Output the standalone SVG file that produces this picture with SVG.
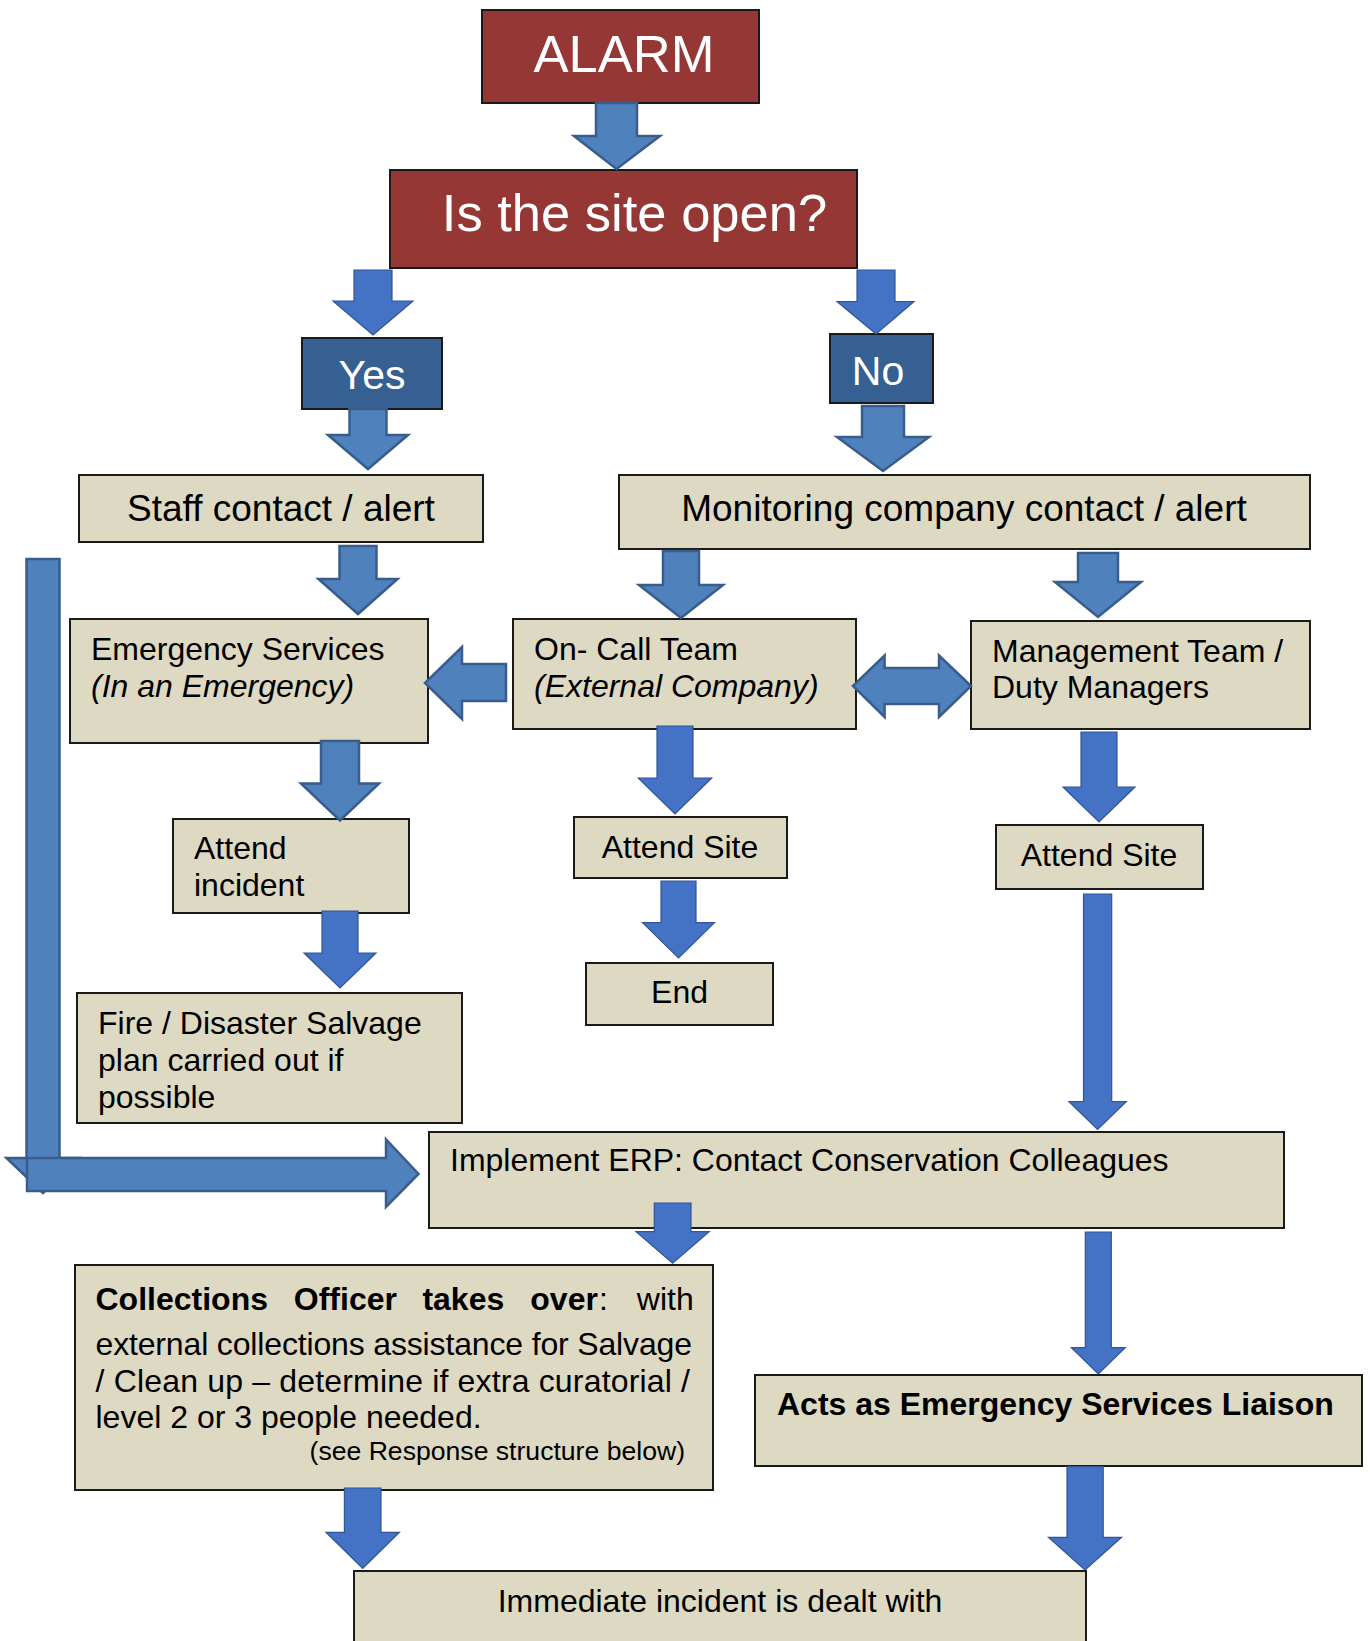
<svg xmlns="http://www.w3.org/2000/svg" width="1370" height="1641" viewBox="0 0 1370 1641">
<style>
text{font-family:"Liberation Sans",Arial,sans-serif;fill:#000}
.red{fill:#953735;stroke:#1a1a1a;stroke-width:2}
.navy{fill:#366092;stroke:#1a1a1a;stroke-width:2}
.tan{fill:#DDD9C3;stroke:#1a1a1a;stroke-width:2}
.w{fill:#fff}
.lt{fill:#4F81BD;stroke:#385D8A;stroke-width:2.5;stroke-linejoin:miter}
.br{fill:#4472C4;stroke:#2F5597;stroke-width:1.2}
.t32{font-size:32px}
.t37{font-size:37px}
.it{font-style:italic}
.b{font-weight:bold}
</style>
<rect width="1370" height="1641" fill="#fff"/>

<g id="alarm"><rect class="red" x="482" y="10" width="277" height="93"/><text class="w" x="624" y="72" font-size="52.5" text-anchor="middle">ALARM</text></g>
<g id="site-open"><rect class="red" x="390" y="170" width="467" height="98"/><text class="w" x="634.5" y="231" font-size="52.5" text-anchor="middle">Is the site open?</text></g>
<g id="yes"><rect class="navy" x="302" y="338" width="140" height="71"/><text class="w" x="372" y="389" font-size="41" text-anchor="middle">Yes</text></g>
<g id="no"><rect class="navy" x="830" y="334" width="103" height="69"/><text class="w" x="878" y="384.5" font-size="41" text-anchor="middle">No</text></g>
<g id="staff"><rect class="tan" x="79" y="475" width="404" height="67"/><text class="t37" x="281" y="521" text-anchor="middle">Staff contact / alert</text></g>
<g id="monitoring"><rect class="tan" x="619" y="475" width="691" height="74"/><text class="t37" x="964" y="521" text-anchor="middle">Monitoring company contact / alert</text></g>
<g id="emergency"><rect class="tan" x="70" y="619" width="358" height="124"/><text class="t32" x="91" y="660">Emergency Services</text><text class="t32 it" x="91" y="697">(In an Emergency)</text></g>
<g id="oncall"><rect class="tan" x="513" y="619" width="343" height="110"/><text class="t32" x="534" y="660">On- Call Team</text><text class="t32 it" x="534" y="697">(External Company)</text></g>
<g id="management"><rect class="tan" x="971" y="621" width="339" height="108"/><text class="t32" x="992" y="662">Management Team /</text><text class="t32" x="992" y="698">Duty Managers</text></g>
<g id="attend-incident"><rect class="tan" x="173" y="819" width="236" height="94"/><text class="t32" x="194" y="859">Attend</text><text class="t32" x="194" y="896">incident</text></g>
<g id="attend-site-mid"><rect class="tan" x="574" y="817" width="213" height="61"/><text class="t32" x="680" y="858" text-anchor="middle">Attend Site</text></g>
<g id="attend-site-right"><rect class="tan" x="996" y="825" width="207" height="64"/><text class="t32" x="1099" y="865.5" text-anchor="middle">Attend Site</text></g>
<g id="end"><rect class="tan" x="586" y="963" width="187" height="62"/><text class="t32" x="679.5" y="1003" text-anchor="middle">End</text></g>
<g id="fire"><rect class="tan" x="77" y="993" width="385" height="130"/><text class="t32" x="98" y="1034">Fire / Disaster Salvage</text><text class="t32" x="98" y="1071">plan carried out if</text><text class="t32" x="98" y="1108">possible</text></g>
<g id="implement"><rect class="tan" x="429" y="1132" width="855" height="96"/><text class="t32" x="450" y="1171">Implement ERP: Contact Conservation Colleagues</text></g>
<g id="collections"><rect class="tan" x="75" y="1265" width="638" height="225"/>
<text class="t32" y="1310"><tspan class="b" x="95.5">Collections</tspan><tspan class="b" x="293.8">Officer</tspan><tspan class="b" x="422.4">takes</tspan><tspan class="b" x="530.3">over</tspan><tspan x="599">:</tspan><tspan x="636.8">with</tspan></text>
<text class="t32" x="95.5" y="1355" textLength="596.5" lengthAdjust="spacing">external collections assistance for Salvage</text>
<text class="t32" x="95.5" y="1392" textLength="594.5" lengthAdjust="spacing">/ Clean up – determine if extra curatorial /</text>
<text class="t32" x="95.5" y="1428">level 2 or 3 people needed.</text>
<text x="685" y="1460" font-size="26.6" text-anchor="end">(see Response structure below)</text></g>
<g id="acts"><rect class="tan" x="755" y="1375" width="607" height="91"/><text class="t32 b" x="777" y="1415">Acts as Emergency Services Liaison</text></g>
<g id="immediate"><rect class="tan" x="354" y="1571" width="732" height="90"/><text class="t32" x="720" y="1612" text-anchor="middle">Immediate incident is dealt with</text></g>

<g id="connectors">
<path class="lt" d="M596,103H637V136H660L616.5,169L574,136H596Z"/>
<path class="br" d="M354,270H392V301H413L373,335L333,301H354Z"/>
<path class="br" d="M857,270H895V301.5H914L876,334L837,301.5H857Z"/>
<path class="lt" d="M349.5,409H386.5V435H408L368,469L328,435H349.5Z"/>
<path class="lt" d="M862,406H904V437H929L883,471L837,437H862Z"/>
<path class="lt" d="M339.5,546H376.5V579H397.5L358,614L318.5,579H339.5Z"/>
<path class="lt" d="M663,551H699V585H723L681,618L639,585H663Z"/>
<path class="lt" d="M1078,553H1118V582H1141L1098,617L1055,582H1078Z"/>
<path class="lt" d="M321,741H359V783.5H379L340,820.5L301,783.5H321Z"/>
<path class="br" d="M322,911H358V953H376L340,988L304,953H322Z"/>
<path class="br" d="M657,726H693V778H711.7L675,814L638.3,778H657Z"/>
<path class="br" d="M661,881H696V922.7H714.5L678.5,958L642.5,922.7H661Z"/>
<path class="br" d="M1081,732H1117V787H1135L1099,822L1063,787H1081Z"/>
<path class="br" d="M1083.5,894H1111.7V1101.5H1126.3L1097.6,1129.5L1068.9,1101.5H1083.5Z"/>
<path class="br" d="M654.3,1203H691V1231.7H709.3L672.6,1263.3L636,1231.7H654.3Z"/>
<path class="br" d="M1085.3,1232H1111.3V1347.7H1125.3L1098.3,1374L1071.3,1347.7H1085.3Z"/>
<path class="br" d="M344.4,1488H381V1532.3H399.4L362.7,1568.3L326,1532.3H344.4Z"/>
<path class="br" d="M1067,1466.7H1103.2V1537.3H1121.5L1085,1570L1048.5,1537.3H1067Z"/>
<path class="lt" d="M506,664H462V647L425,683L462,719V701H506Z"/>
<path class="lt" d="M853,686L884.6,655.5V668H939V655.5L971,686L939,717V704H884.6V717Z"/>
<path class="lt" d="M26.5,559H59.5V1158H79.5L43,1193L6.5,1158H26.5Z"/>
<path class="lt" d="M27,1158H386V1139.5L418.5,1174L386,1207V1191H27Z"/>
</g>
</svg>
